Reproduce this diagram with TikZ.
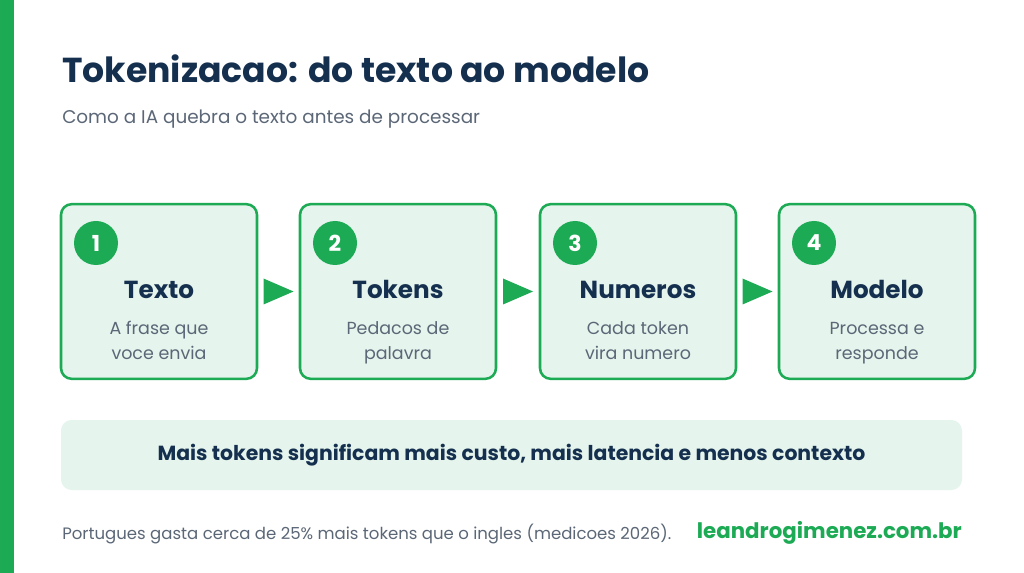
\documentclass[tikz,border=0pt]{standalone}
\usepackage{fontspec}
\setmainfont{Poppins}
\usepackage{xcolor}
\usetikzlibrary{calc}

\definecolor{navy}{HTML}{15304F}
\definecolor{brand}{HTML}{1DAA55}
\definecolor{mint}{HTML}{E5F4EC}
\definecolor{slate}{HTML}{5B6777}

\begin{document}
\begin{tikzpicture}[
    x=0.75pt,
    y=-0.75pt,
    stepbox/.style={draw=brand, line width=1.9pt, fill=mint, rounded corners=8pt, minimum width=147pt, minimum height=131pt},
    badge/.style={circle, fill=brand, text=white, minimum size=33pt, inner sep=0pt, font=\fontsize{16.5}{18}\selectfont\bfseries},
    heading/.style={anchor=base, text=navy, font=\fontsize{18.5}{22}\selectfont\bfseries},
    desc/.style={anchor=base, text=slate, align=center, font=\fontsize{13.1}{18.75}\selectfont},
    headfill/.style={fill=brand}
]
\useasboundingbox (0,0) rectangle (1024,573);
\fill[white] (0,0) rectangle (1024,573);
\fill[brand] (0,0) rectangle (14,573);

\node[anchor=base west, inner sep=0pt, text=navy, font=\fontsize{26}{32}\selectfont\bfseries] (title) at (62,83) {Tokenizacao: do texto ao modelo};
\node[anchor=base west, inner sep=0pt, text=slate, font=\fontsize{13.8}{16}\selectfont] (subtitle) at (62,124) {Como a IA quebra o texto antes de processar};

\node[stepbox] (b1) at (159,291.5) {};
\node[stepbox] (b2) at (398,291.5) {};
\node[stepbox] (b3) at (638,291.5) {};
\node[stepbox] (b4) at (877,291.5) {};

\node[badge] (n1) at (96,243) {1};
\node[badge] (n2) at (335,243) {2};
\node[badge] (n3) at (575,243) {3};
\node[badge] (n4) at (814,243) {4};

\node[heading] (h1) at (159,299) {Texto};
\node[heading] (h2) at (398,299) {Tokens};
\node[heading] (h3) at (638,299) {Numeros};
\node[heading] (h4) at (877,299) {Modelo};

% base of a two-line node sits on its last line
\node[desc] (d1) at (159,360) {A frase que\\voce envia};
\node[desc] (d2) at (398,360) {Pedacos de\\palavra};
\node[desc] (d3) at (638,360) {Cada token\\vira numero};
\node[desc] (d4) at (877,360) {Processa e\\responde};

\foreach \a/\b in {b1/b2,b2/b3,b3/b4}
  \fill[headfill] ($(\a.east)!0.5!(\b.west)$) +(-15,-13) -- +(15,0) -- +(-15,13) -- cycle;

\node[fill=mint, rounded corners=8pt, minimum width=675.75pt, minimum height=52.5pt, text=navy, font=\fontsize{15.3}{18}\selectfont\bfseries] (note) at (511.5,455) {Mais tokens significam mais custo, mais latencia e menos contexto};

\node[anchor=base west, inner sep=0pt, text=slate, font=\fontsize{12.4}{15}\selectfont] (source) at (62,539) {Portugues gasta cerca de 25\% mais tokens que o ingles (medicoes 2026).};
\node[anchor=base east, inner sep=0pt, text=brand, font=\fontsize{16}{18}\selectfont\bfseries] (site) at (962,538) {leandrogimenez.com.br};
\end{tikzpicture}
\end{document}
